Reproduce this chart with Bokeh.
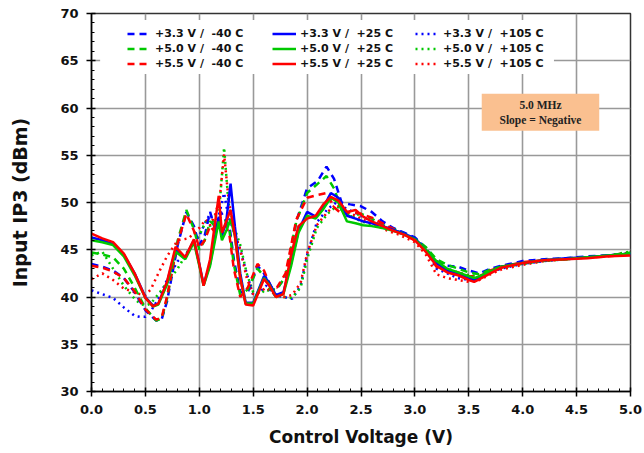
from bokeh.plotting import figure
from bokeh.models import (Legend, LegendItem, BoxAnnotation, Label, Range1d,
                          SingleIntervalTicker, NumeralTickFormatter)
from bokeh.embed import file_html
from bokeh.resources import INLINE

# ---------------- data ----------------
x_cold = [0.0, 0.1, 0.2, 0.3, 0.4, 0.5, 0.6, 0.65, 0.7, 0.8, 0.88, 0.95, 1.0, 1.05, 1.1, 1.15, 1.2, 1.25,
          1.28, 1.32, 1.38, 1.45, 1.54, 1.6, 1.66, 1.72, 1.8, 1.9, 2.0, 2.1, 2.18, 2.25, 2.32, 2.4, 2.5, 2.6,
          2.7, 2.8, 2.9, 3.0, 3.1, 3.2, 3.3, 3.4, 3.5, 3.6, 3.7, 3.8, 4.0, 4.2, 4.4, 4.6, 4.8, 5.0]
v33_m40 = [43.5, 43.2, 42.8, 42.0, 40.5, 38.6, 37.5, 37.6, 39.5, 45.5, 49.0, 47.5, 45.5, 46.5, 49.0, 47.0, 49.0, 48.0,
           47.5, 44.0, 40.5, 40.5, 43.3, 42.5, 41.0, 41.0, 42.0, 48.0, 51.5, 52.3, 53.8, 52.5, 50.0, 49.8, 49.6, 49.0,
           48.0, 47.3, 46.8, 46.3, 45.2, 43.8, 43.3, 43.2, 42.8, 42.5, 43.0, 43.3, 43.8, 44.0, 44.1, 44.3, 44.4, 44.6]
v50_m40 = [44.7, 44.5, 44.2, 43.0, 41.0, 38.8, 37.5, 37.7, 39.8, 46.0, 49.2, 47.2, 45.0, 46.0, 48.0, 47.5, 48.5, 48.0,
           47.0, 43.5, 40.2, 40.8, 43.0, 42.2, 40.8, 40.8, 42.2, 48.0, 51.0, 52.0, 52.8, 51.5, 49.2, 48.5, 48.8, 48.3,
           47.6, 47.2, 46.7, 46.2, 45.3, 44.0, 43.4, 43.0, 42.6, 42.4, 42.9, 43.2, 43.6, 43.9, 44.1, 44.2, 44.4, 44.7]
v55_m40 = [43.3, 43.1, 42.7, 42.0, 40.6, 38.7, 37.6, 37.8, 40.0, 45.8, 48.8, 47.0, 45.2, 46.0, 47.5, 46.8, 48.0, 47.5,
           46.5, 43.0, 40.0, 41.0, 43.5, 42.8, 41.2, 41.0, 42.5, 48.2, 50.5, 50.8, 51.0, 49.5, 48.8, 49.0, 48.8, 48.4,
           47.8, 47.2, 46.6, 46.0, 45.0, 43.2, 42.8, 42.6, 42.2, 42.2, 42.8, 43.2, 43.7, 43.9, 44.0, 44.2, 44.3, 44.5]

x_room = [0.0, 0.1, 0.2, 0.3, 0.4, 0.5, 0.57, 0.62, 0.7, 0.78, 0.87, 0.95, 1.0, 1.04, 1.1, 1.18, 1.21, 1.25,
          1.29, 1.33, 1.38, 1.43, 1.5, 1.6, 1.65, 1.71, 1.78, 1.85, 1.92, 2.0, 2.08, 2.15, 2.22, 2.29, 2.37, 2.45,
          2.52, 2.6, 2.7, 2.8, 2.9, 3.0, 3.1, 3.2, 3.3, 3.4, 3.5, 3.55, 3.6, 3.7, 3.8, 4.0, 4.2, 4.4, 4.6, 4.8, 5.0]
v33_p25 = [46.3, 46.0, 45.6, 44.5, 42.5, 40.0, 39.1, 39.3, 41.5, 45.0, 44.2, 46.0, 43.5, 41.3, 43.5, 48.5, 46.5, 48.0,
           52.0, 47.5, 42.5, 39.4, 39.4, 42.2, 41.5, 40.2, 40.5, 43.5, 47.0, 49.0, 48.5, 49.5, 51.0, 50.5, 48.6, 48.3,
           48.0, 47.8, 47.5, 47.1, 46.7, 46.2, 45.0, 43.6, 42.8, 42.5, 42.0, 41.8, 42.1, 42.6, 43.2, 43.6, 43.9, 44.1,
           44.2, 44.4, 44.5]
v50_p25 = [46.0, 45.8, 45.5, 44.3, 42.3, 39.9, 39.0, 39.2, 41.3, 44.8, 44.0, 45.8, 43.3, 41.2, 43.3, 48.0, 46.0, 47.0,
           48.2, 46.5, 42.0, 39.3, 39.3, 42.0, 41.3, 40.0, 40.3, 43.2, 46.8, 48.6, 48.3, 49.3, 50.5, 50.0, 48.0, 47.8,
           47.6, 47.5, 47.3, 47.0, 46.6, 46.1, 45.0, 43.8, 43.0, 42.6, 42.2, 42.0, 42.2, 42.7, 43.2, 43.6, 43.9, 44.0,
           44.2, 44.4, 44.6]
v55_p25 = [46.7, 46.2, 45.8, 44.6, 42.5, 39.9, 39.0, 39.3, 41.6, 45.3, 44.2, 46.1, 43.5, 41.2, 44.0, 50.7, 46.8, 48.0,
           49.2, 46.5, 42.0, 39.2, 39.1, 41.9, 41.2, 40.0, 40.3, 44.4, 47.5, 48.3, 48.6, 49.8, 50.6, 50.2, 49.0, 49.2,
           48.5, 48.0, 47.5, 47.0, 46.6, 46.0, 44.8, 43.3, 42.6, 42.3, 41.8, 41.6, 41.9, 42.5, 43.1, 43.6, 43.9, 44.0,
           44.1, 44.3, 44.4]

x_hot = [0.0, 0.1, 0.2, 0.3, 0.4, 0.45, 0.5, 0.55, 0.62, 0.7, 0.8, 0.9, 1.0, 1.06, 1.1, 1.15, 1.19, 1.23,
         1.27, 1.32, 1.38, 1.44, 1.5, 1.56, 1.62, 1.7, 1.78, 1.86, 1.94, 2.0, 2.09, 2.19, 2.27, 2.37, 2.47, 2.55,
         2.65, 2.75, 2.85, 3.0, 3.1, 3.2, 3.3, 3.4, 3.5, 3.6, 3.7, 3.8, 4.0, 4.2, 4.4, 4.6, 4.8, 5.0]
v33_p105 = [40.7, 40.3, 39.9, 38.9, 38.0, 37.9, 37.9, 38.5, 39.8, 41.8, 43.8, 44.8, 46.5, 48.0, 48.8, 47.5, 49.0, 51.0,
            48.5, 47.0, 45.0, 42.5, 40.2, 40.5, 41.2, 40.2, 40.0, 39.8, 41.2, 44.4, 47.9, 49.3, 50.0, 49.3, 48.8, 48.3,
            47.8, 47.4, 47.0, 46.2, 45.0, 43.0, 42.5, 42.0, 41.8, 42.0, 42.6, 43.0, 43.5, 43.8, 44.0, 44.2, 44.4, 44.6]
v50_p105 = [44.4, 44.8, 43.0, 41.2, 39.8, 39.3, 39.1, 39.3, 40.3, 41.5, 43.0, 45.0, 46.5, 48.0, 47.5, 48.5, 50.0, 55.8,
            50.0, 47.5, 45.5, 42.5, 40.5, 40.3, 40.8, 40.3, 40.0, 39.9, 41.0, 44.0, 47.3, 48.8, 49.6, 49.0, 48.2, 47.8,
            47.6, 47.3, 46.9, 46.1, 45.2, 43.6, 43.0, 42.6, 42.3, 42.2, 42.7, 43.1, 43.5, 43.8, 44.0, 44.2, 44.4, 44.8]
v55_p105 = [41.9, 42.5, 41.8, 40.9, 40.5, 40.3, 40.2, 40.8, 42.5, 44.3, 46.0, 46.2, 47.3, 48.2, 47.6, 48.8, 50.5, 55.1,
            50.5, 47.0, 45.0, 42.0, 40.3, 40.5, 41.0, 40.3, 40.0, 40.2, 41.5, 44.6, 47.6, 49.0, 49.8, 49.0, 48.5, 48.0,
            47.5, 47.0, 46.6, 45.8, 44.5, 42.4, 42.0, 41.8, 41.6, 41.8, 42.4, 42.9, 43.4, 43.8, 44.0, 44.2, 44.4, 44.7]

labels_cold = ["+3.3 V /\u00a0\u00a0-40 C", "+5.0 V /\u00a0\u00a0-40 C", "+5.5 V /\u00a0\u00a0-40 C"]
labels_room = ["+3.3 V /\u00a0\u00a0+25 C", "+5.0 V /\u00a0\u00a0+25 C", "+5.5 V /\u00a0\u00a0+25 C"]
labels_hot = ["+3.3 V /\u00a0\u00a0+105 C", "+5.0 V /\u00a0\u00a0+105 C", "+5.5 V /\u00a0\u00a0+105 C"]

x_label = "Control Voltage (V)"
y_label = "Input IP3 (dBm)"
note_lines = ["5.0 MHz", "Slope = Negative"]

# ---------------- styling ----------------
colors = ["#0000FF", "#00C800", "#FF0000"]
FONT = "DejaVu Sans"

p = figure(width=644, height=453, x_range=Range1d(0, 5), y_range=Range1d(30, 70),
           output_backend="svg", toolbar_location=None,
           min_border_left=91, min_border_right=14, min_border_top=13, min_border_bottom=62)
p.background_fill_color = "white"
p.border_fill_color = "white"
p.outline_line_color = "#333333"
p.outline_line_width = 1.5

p.xaxis.ticker = SingleIntervalTicker(interval=0.5, num_minor_ticks=5)
p.yaxis.ticker = SingleIntervalTicker(interval=5, num_minor_ticks=5)
p.xaxis.formatter = NumeralTickFormatter(format="0.0")
p.yaxis.formatter = NumeralTickFormatter(format="0")

for ax in (p.xaxis[0], p.yaxis[0]):
    ax.axis_line_color = "black"
    ax.axis_line_width = 1.5
    ax.major_tick_line_color = "black"
    ax.major_tick_line_width = 1.5
    ax.minor_tick_line_color = "black"
    ax.minor_tick_line_width = 1
    ax.major_tick_in = 4
    ax.major_tick_out = 5
    ax.minor_tick_in = 3
    ax.minor_tick_out = 0
    ax.major_label_text_font = FONT
    ax.major_label_text_font_style = "bold"
    ax.major_label_text_font_size = "13px"
    ax.major_label_text_color = "#111111"
    ax.axis_label_text_font = FONT
    ax.axis_label_text_font_style = "bold"
    ax.axis_label_text_color = "#111111"

p.xaxis.axis_label = x_label
p.yaxis.axis_label = y_label
p.xaxis.axis_label_text_font_size = "17px"
p.yaxis.axis_label_text_font_size = "19px"
p.xaxis.major_label_standoff = 8
p.xaxis.axis_label_standoff = 10
p.yaxis.major_label_standoff = 8
p.yaxis.axis_label_standoff = 26

for g in (p.xgrid[0], p.ygrid[0]):
    g.grid_line_color = "#999999"
    g.grid_line_width = 1.6

# white legend backdrop and orange note box
p.add_layout(BoxAnnotation(left=0.08, right=4.29, bottom=63.6, top=69.3,
                           fill_color="white", fill_alpha=1.0, line_color=None))
p.add_layout(BoxAnnotation(left=3.62, right=4.71, bottom=57.6, top=61.5,
                           fill_color="#FAC090", fill_alpha=1.0, line_color=None))
for txt, yy in zip(note_lines, [60.35, 58.75]):
    p.add_layout(Label(x=4.165, y=yy, text=txt, text_align="center", text_baseline="middle",
                       text_font="Liberation Serif", text_font_style="bold",
                       text_font_size="11.5px", text_color="#222222"))

groups = [
    (x_hot, [v33_p105, v50_p105, v55_p105], labels_hot, "2 4"),
    (x_cold, [v33_m40, v50_m40, v55_m40], labels_cold, "7 5"),
    (x_room, [v33_p25, v50_p25, v55_p25], labels_room, "solid"),
]
legend_items = {}
for xs, ys_list, labs, dash in groups:
    items = []
    for ys, lab, col in zip(ys_list, labs, colors):
        r = p.line(xs, ys, line_color=col, line_width=2.5, line_dash=dash)
        items.append(LegendItem(label=lab, renderers=[r]))
    legend_items[dash] = items

leg_x = {"7 5": 36, "solid": 181, "2 4": 324}
for dash in ["7 5", "solid", "2 4"]:
    leg = Legend(items=legend_items[dash], location=(leg_x[dash], 321),
                 orientation="vertical", glyph_width=24, glyph_height=13, label_height=13,
                 spacing=2, padding=0, margin=0, label_standoff=4,
                 label_text_font=FONT, label_text_font_style="bold", label_text_font_size="11px",
                 label_text_color="#111111",
                 background_fill_alpha=0, border_line_alpha=0)
    p.add_layout(leg, "center")

open("out.html", "w").write(file_html(p, INLINE))
